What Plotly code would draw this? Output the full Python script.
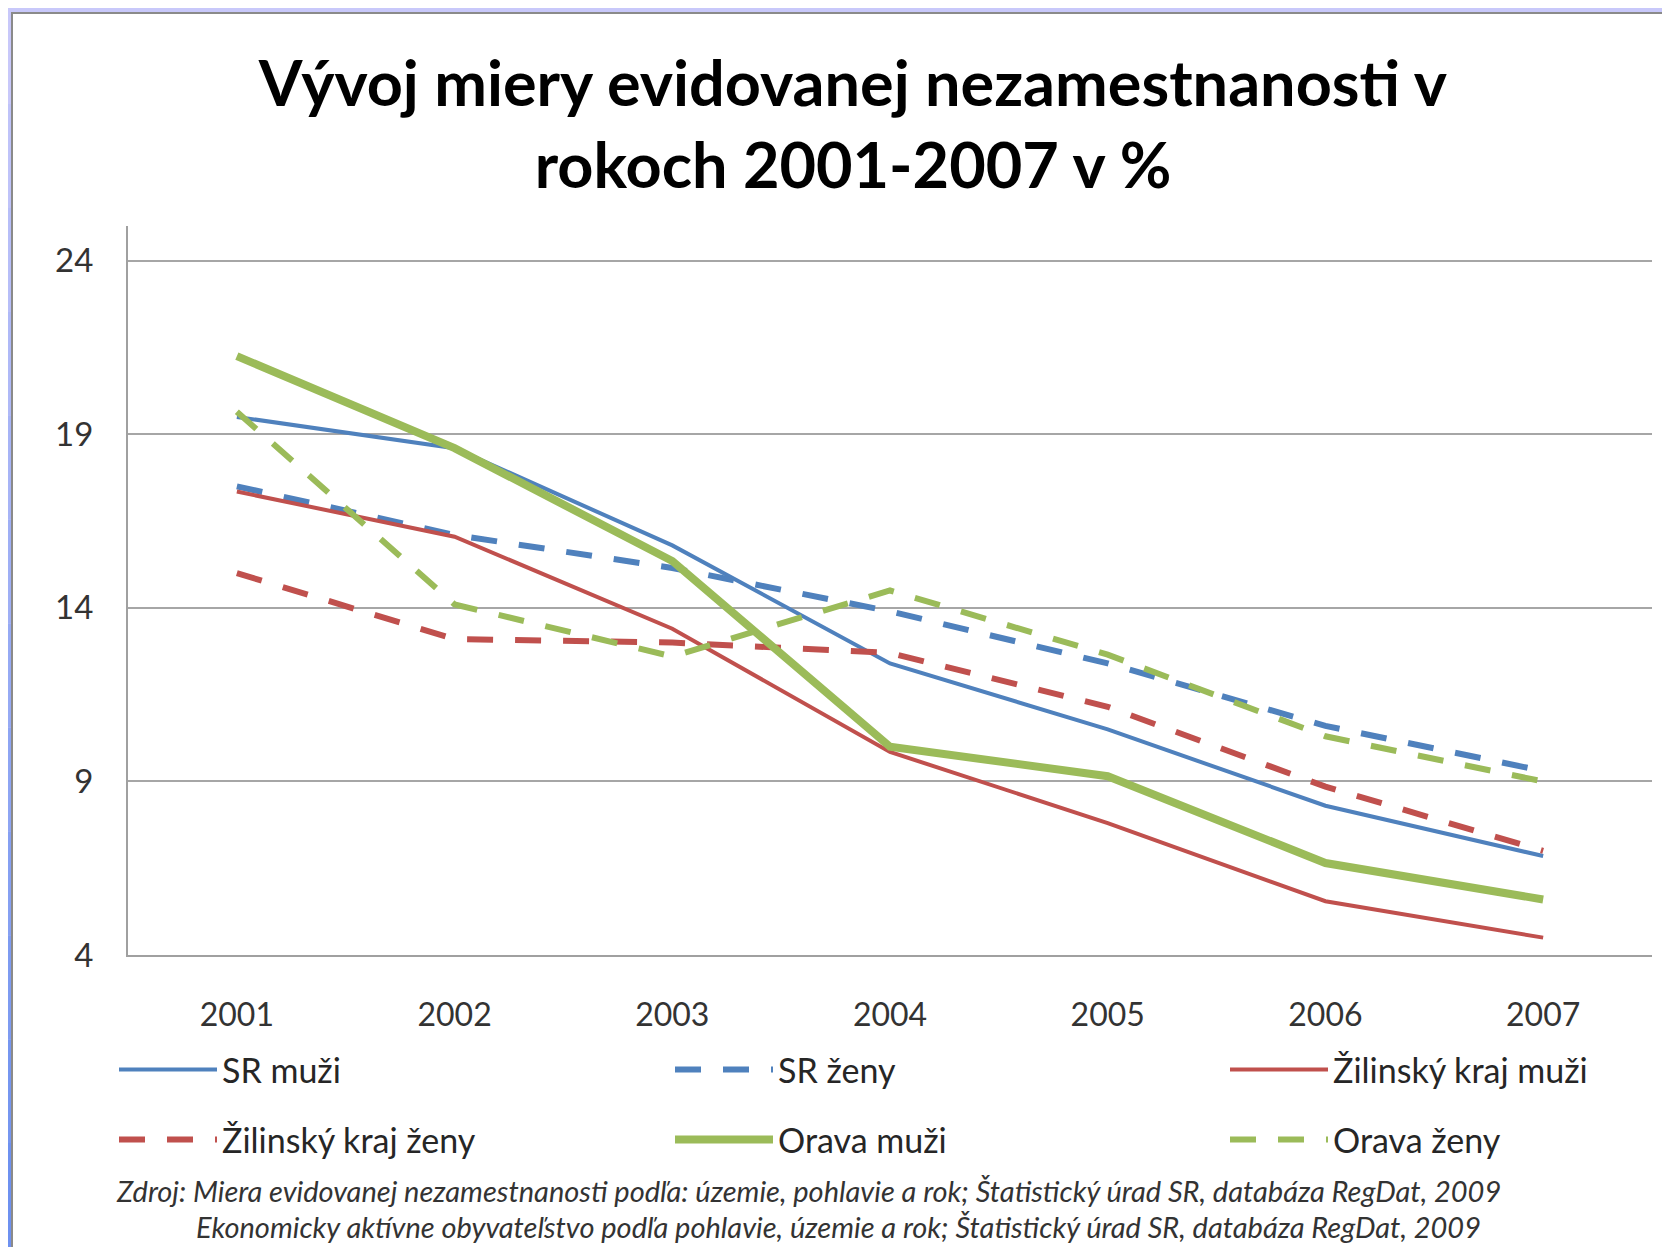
import plotly.graph_objects as go

# Miera evidovanej nezamestnanosti (%) 2001-2007, odčítané z grafu
years = ["2001", "2002", "2003", "2004", "2005", "2006", "2007"]
sr_muzi = [19.5, 18.6, 15.8, 12.4, 10.5, 8.3, 6.85]
sr_zeny = [17.5, 16.1, 15.15, 13.9, 12.4, 10.6, 9.3]
zilina_muzi = [17.35, 16.05, 13.4, 9.85, 7.8, 5.55, 4.5]
zilina_zeny = [15.0, 13.1, 13.0, 12.7, 11.15, 8.85, 7.0]
orava_muzi = [21.25, 18.6, 15.35, 10.0, 9.15, 6.65, 5.6]
orava_zeny = [19.65, 14.1, 12.6, 14.5, 12.65, 10.3, 9.0]

y_ticks = [4, 9, 14, 19, 24]

BLUE = "#4F81BD"
RED = "#C0504D"
GREEN = "#9BBB59"
DASH = "26px,22px"

# page body has an 8px margin, so the figure is a bit smaller and shifted
OFF = 8
W, H = 1670 - OFF, 1247 - OFF
L, R, T, B = 128 - OFF, 18, 226 - OFF, 292
pw, ph = W - L - R, H - T - B


def px_x(v):
    # reference-image pixel -> paper coordinate
    return (v - OFF - L) / pw


def px_y(v):
    return (H - B - (v - OFF)) / ph


# legend slots: (column x of the sample line, row y) in reference pixels
col_x = [117, 673, 1228]
row_y = [1070, 1140]

series = [
    ("SR muži", sr_muzi, BLUE, "solid", 4),
    ("SR ženy", sr_zeny, BLUE, DASH, 6),
    ("Žilinský kraj muži", zilina_muzi, RED, "solid", 4),
    ("Žilinský kraj ženy", zilina_zeny, RED, DASH, 6),
    ("Orava muži", orava_muzi, GREEN, "solid", 8),
    ("Orava ženy", orava_zeny, GREEN, DASH, 6),
]

FONT = "Lato, 'Open Sans', sans-serif"

fig = go.Figure()
legends = {}
for i, (name, vals, color, dash, width) in enumerate(series):
    key = "legend" if i == 0 else "legend%d" % (i + 1)
    fig.add_trace(go.Scatter(
        x=years, y=vals, name=name, mode="lines",
        line=dict(color=color, dash=dash, width=width),
        legend=key,
    ))
    legends[key] = dict(
        x=px_x(col_x[i % 3] - 3), y=px_y(row_y[i // 3]),
        xanchor="left", yanchor="middle", orientation="h", itemwidth=98,
        font=dict(family=FONT, size=34, color="#262626"), bgcolor="rgba(0,0,0,0)",
    )

# white card + blue strip on the left (slide background)
shapes = []
n = 12
for i in range(n):
    c0 = (200, 200, 250)
    c1 = (110, 145, 240)
    t = i / (n - 1)
    col = tuple(int(c0[k] + (c1[k] - c0[k]) * t) for k in range(3))
    shapes.append(dict(
        type="rect", xref="paper", yref="paper", layer="below",
        x0=px_x(0), x1=px_x(12), y0=px_y(1247 * i / n), y1=px_y(1247 * (i + 1) / n),
        fillcolor="rgb(%d,%d,%d)" % col, line=dict(width=0),
    ))
shapes.append(dict(
    type="rect", xref="paper", yref="paper", layer="below",
    x0=px_x(12), x1=px_x(1680), y0=px_y(13), y1=px_y(1260),
    fillcolor="white", line=dict(color="#8a8a8a", width=2),
))

source_1 = ("Zdroj: Miera evidovanej nezamestnanosti podľa: územie, pohlavie a rok; "
            "Štatistický úrad SR, databáza RegDat, 2009")
source_2 = ("Ekonomicky aktívne obyvateľstvo podľa pohlavie, územie a rok; "
            "Štatistický úrad SR, databáza RegDat, 2009")

fig.update_layout(
    width=W, height=H,
    margin=dict(l=L, r=R, t=T, b=B),
    paper_bgcolor="rgb(200,200,250)",
    plot_bgcolor="white",
    font=dict(family=FONT, color="#333333", size=28),
    title=dict(
        text="Vývoj miery evidovanej nezamestnanosti v<br>rokoch 2001-2007 v %",
        x=(853 - OFF) / W, xanchor="center", y=1 - 98 / H, yanchor="middle",
        font=dict(family=FONT, size=63, color="black", weight="bold"),
    ),
    shapes=shapes,
    showlegend=True,
    annotations=[
        dict(text="<i>" + source_1 + "</i>", xref="paper", yref="paper",
             x=px_x(808), y=px_y(1190), xanchor="center", yanchor="middle",
             showarrow=False, font=dict(family=FONT, size=29, color="#333333")),
        dict(text="<i>" + source_2 + "</i>", xref="paper", yref="paper",
             x=px_x(838), y=px_y(1226), xanchor="center", yanchor="middle",
             showarrow=False, font=dict(family=FONT, size=29, color="#333333")),
    ],
    **legends,
)

fig.update_xaxes(
    type="category", range=[-0.5, 6.5],
    showgrid=False, showline=True, linecolor="#a0a0a0", linewidth=2,
    ticks="", ticklabelstandoff=31, tickfont=dict(size=32, color="#333333"),
)
fig.update_yaxes(
    range=[4, 25], tickvals=y_ticks,
    showgrid=True, gridcolor="#a6a6a6", gridwidth=2,
    showline=True, linecolor="#a0a0a0", linewidth=2, zeroline=False,
    ticks="", ticklabelstandoff=26, tickfont=dict(size=33, color="#333333"),
)

fig.write_html("out.html")
